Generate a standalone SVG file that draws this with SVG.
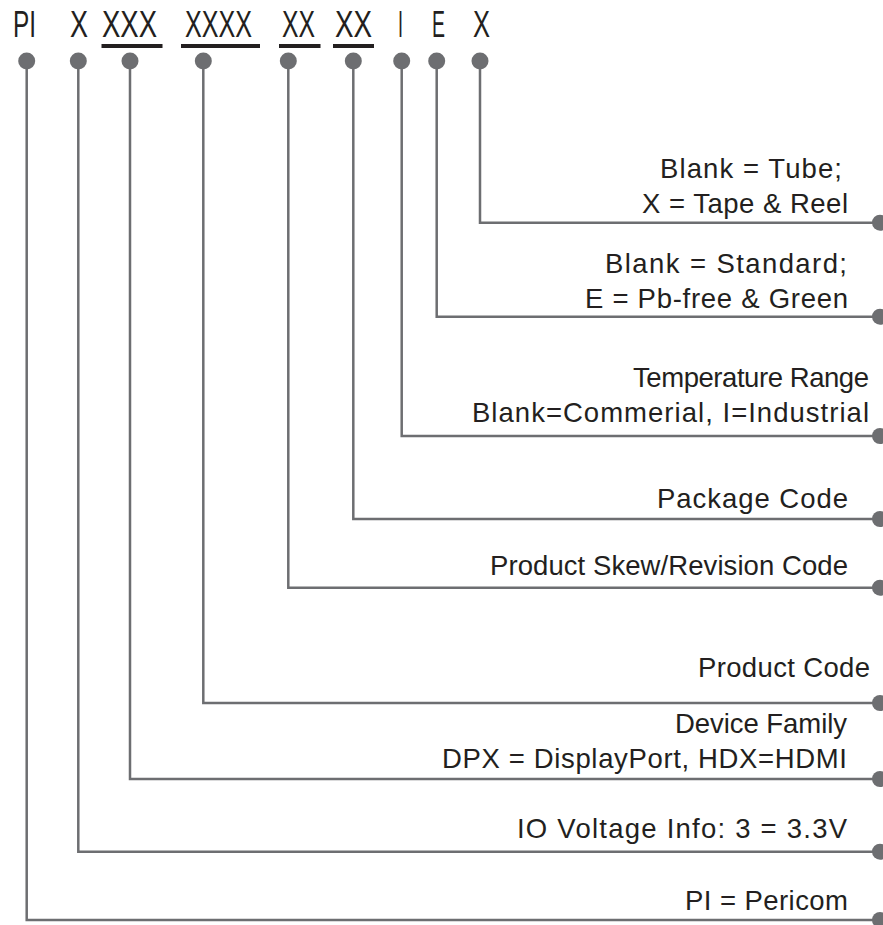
<svg xmlns="http://www.w3.org/2000/svg" width="883" height="925" viewBox="0 0 883 925">
<style>
.code{font-family:"Liberation Sans",Arial,sans-serif;font-size:37px;fill:#231f20}
.lbl{font-family:"Liberation Sans",Arial,sans-serif;font-size:27.5px;fill:#231f20;text-anchor:end}
.ln{fill:none;stroke:#6d6e71;stroke-width:2.5}
.dot{fill:#6d6e71}
.ul{fill:#231f20}
</style>
<rect width="883" height="925" fill="#fff"/>
<g id="code">
<text class="code" x="13" y="37" textLength="23" lengthAdjust="spacingAndGlyphs">PI</text>
<text class="code" x="70" y="37" textLength="18" lengthAdjust="spacingAndGlyphs">X</text>
<text class="code" x="102" y="37" textLength="55" lengthAdjust="spacingAndGlyphs">XXX</text>
<text class="code" x="185" y="37" textLength="67" lengthAdjust="spacingAndGlyphs">XXXX</text>
<text class="code" x="282" y="37" textLength="33" lengthAdjust="spacingAndGlyphs">XX</text>
<text class="code" x="335" y="37" textLength="37" lengthAdjust="spacingAndGlyphs">XX</text>
<text class="code" x="398" y="37" textLength="5" lengthAdjust="spacingAndGlyphs">I</text>
<text class="code" x="432" y="37" textLength="13" lengthAdjust="spacingAndGlyphs">E</text>
<text class="code" x="473" y="37" textLength="17" lengthAdjust="spacingAndGlyphs">X</text>
<rect class="ul" x="101.5" y="44" width="61" height="4"/>
<rect class="ul" x="181" y="44" width="79" height="4"/>
<rect class="ul" x="279" y="44" width="41.5" height="4"/>
<rect class="ul" x="333" y="44" width="41" height="4"/>
</g>
<g id="connectors">
<path class="ln" d="M480,61 V222.7 H880"/>
<path class="ln" d="M436.7,61 V316.7 H880"/>
<path class="ln" d="M401.7,61 V436 H880"/>
<path class="ln" d="M353.3,61 V519 H880"/>
<path class="ln" d="M288.3,61 V587.7 H880"/>
<path class="ln" d="M203.3,61 V703 H880"/>
<path class="ln" d="M130,61 V779 H880"/>
<path class="ln" d="M78.3,61 V851.7 H880"/>
<path class="ln" d="M26.7,61 V920 H880"/>
</g>
<g id="top-dots">
<circle class="dot" cx="26.7" cy="61" r="8.5"/>
<circle class="dot" cx="78.3" cy="61" r="8.5"/>
<circle class="dot" cx="130" cy="61" r="8.5"/>
<circle class="dot" cx="203.3" cy="61" r="8.5"/>
<circle class="dot" cx="288.3" cy="61" r="8.5"/>
<circle class="dot" cx="353.3" cy="61" r="8.5"/>
<circle class="dot" cx="401.7" cy="61" r="8.5"/>
<circle class="dot" cx="436.7" cy="61" r="8.5"/>
<circle class="dot" cx="480" cy="61" r="8.5"/>
</g>
<g id="end-dots">
<circle class="dot" cx="880" cy="222.7" r="8"/>
<circle class="dot" cx="880" cy="316.7" r="8"/>
<circle class="dot" cx="880" cy="436" r="8"/>
<circle class="dot" cx="880" cy="519" r="8"/>
<circle class="dot" cx="880" cy="587.7" r="8"/>
<circle class="dot" cx="880" cy="703" r="8"/>
<circle class="dot" cx="880" cy="779" r="8"/>
<circle class="dot" cx="880" cy="851.7" r="8"/>
<circle class="dot" cx="880" cy="920" r="8"/>
</g>
<g id="node-packing">
<text class="lbl" x="842" y="178" textLength="182" lengthAdjust="spacing">Blank = Tube;</text>
<text class="lbl" x="848" y="213" textLength="206" lengthAdjust="spacing">X = Tape &amp; Reel</text>
</g>
<g id="node-green">
<text class="lbl" x="847" y="273" textLength="242" lengthAdjust="spacing">Blank = Standard;</text>
<text class="lbl" x="848" y="308" textLength="263" lengthAdjust="spacing">E = Pb-free &amp; Green</text>
</g>
<g id="node-temp">
<text class="lbl" x="869" y="387" textLength="236" lengthAdjust="spacing">Temperature Range</text>
<text class="lbl" x="869" y="422" textLength="397" lengthAdjust="spacing">Blank=Commerial, I=Industrial</text>
</g>
<g id="node-package">
<text class="lbl" x="848" y="508" textLength="191" lengthAdjust="spacing">Package Code</text>
</g>
<g id="node-skew">
<text class="lbl" x="848" y="575" textLength="358" lengthAdjust="spacing">Product Skew/Revision Code</text>
</g>
<g id="node-product">
<text class="lbl" x="870" y="677" textLength="172" lengthAdjust="spacing">Product Code</text>
</g>
<g id="node-family">
<text class="lbl" x="847" y="733" textLength="172" lengthAdjust="spacing">Device Family</text>
<text class="lbl" x="847" y="768" textLength="405" lengthAdjust="spacing">DPX = DisplayPort, HDX=HDMI</text>
</g>
<g id="node-voltage">
<text class="lbl" x="847" y="838" textLength="330" lengthAdjust="spacing">IO Voltage Info: 3 = 3.3V</text>
</g>
<g id="node-pi">
<text class="lbl" x="848" y="910" textLength="163" lengthAdjust="spacing">PI = Pericom</text>
</g>
</svg>
